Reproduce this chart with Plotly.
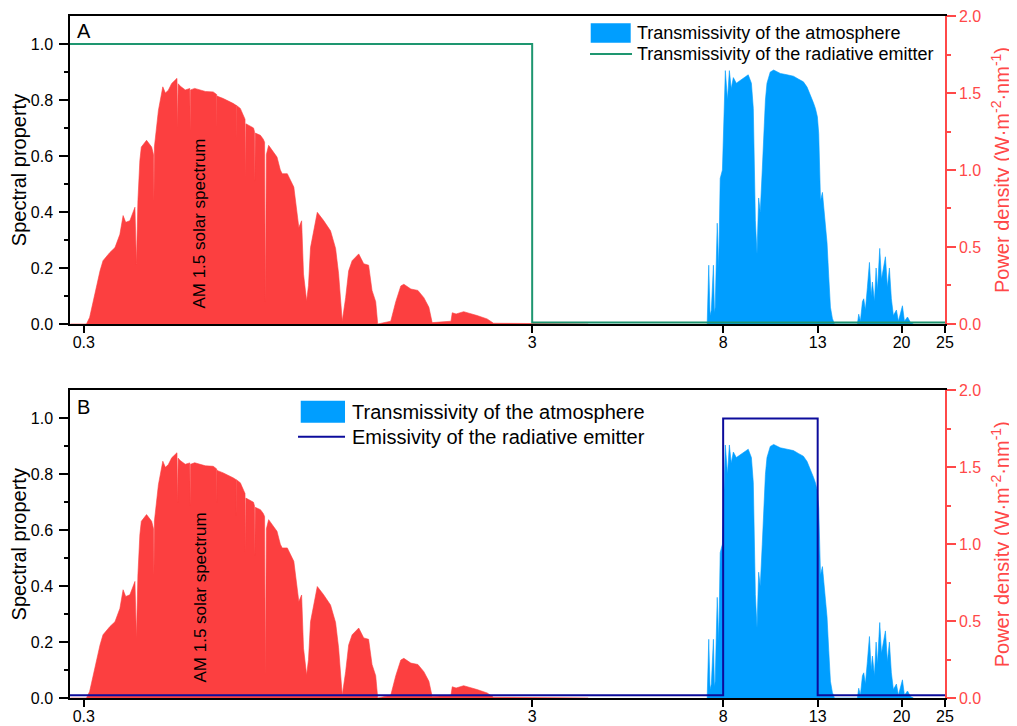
import math
import plotly.graph_objects as go

# ---------------- data ----------------
# AM 1.5 solar spectrum: wavelength (um) and power density (W m^-2 nm^-1)
solar_wl = [0.280, 0.300, 0.304, 0.309, 0.317, 0.326, 0.331, 0.343, 0.352, 0.361,
            0.367, 0.372, 0.380, 0.390, 0.393, 0.396, 0.400, 0.403, 0.414, 0.425,
            0.429, 0.430, 0.431, 0.434, 0.440, 0.450, 0.456, 0.463, 0.471, 0.484,
            0.4855, 0.487, 0.492, 0.505, 0.517, 0.518, 0.519, 0.530, 0.545, 0.560,
            0.583, 0.5935, 0.594, 0.5945, 0.614, 0.630, 0.647, 0.6555, 0.656, 0.6565,
            0.670, 0.681, 0.6865, 0.688, 0.6895, 0.699, 0.717, 0.7205, 0.722, 0.7235,
            0.743, 0.754, 0.759, 0.762, 0.766, 0.775, 0.809, 0.823, 0.831, 0.853,
            0.882, 0.905, 0.918, 0.927, 0.942, 0.951, 0.961, 0.995, 1.027, 1.065,
            1.093, 1.110, 1.131, 1.151, 1.169, 1.190, 1.231, 1.263, 1.295, 1.318,
            1.343, 1.357, 1.451, 1.489, 1.528, 1.552, 1.609, 1.668, 1.720, 1.765,
            1.795, 1.977, 1.990, 2.030, 2.110, 2.260, 2.380, 2.460, 2.550, 3.000,
            4.000]
solar_pd = [0.000, 0.000, 0.000, 0.042, 0.193, 0.345, 0.411, 0.465, 0.496, 0.582,
            0.704, 0.660, 0.671, 0.758, 0.389, 0.800, 1.062, 1.149, 1.193, 1.149,
            1.100, 0.802, 1.150, 1.236, 1.387, 1.540, 1.500, 1.518, 1.562, 1.595,
            1.273, 1.560, 1.545, 1.520, 1.529, 1.255, 1.520, 1.530, 1.518, 1.510,
            1.507, 1.490, 1.273, 1.480, 1.464, 1.450, 1.431, 1.420, 1.190, 1.420,
            1.400, 1.345, 1.330, 0.953, 1.300, 1.291, 1.273, 1.250, 0.927, 1.240,
            1.225, 1.200, 1.180, 0.149, 1.100, 1.160, 1.084, 1.000, 0.976, 0.976,
            0.889, 0.627, 0.670, 0.324, 0.149, 0.250, 0.496, 0.725, 0.673, 0.605,
            0.491, 0.327, 0.018, 0.171, 0.345, 0.411, 0.455, 0.391, 0.382, 0.218,
            0.145, 0.000, 0.018, 0.145, 0.247, 0.258, 0.227, 0.218, 0.171, 0.109,
            0.009, 0.018, 0.073, 0.065, 0.080, 0.055, 0.033, 0.005, 0.004, 0.003,
            0.000]

# Transmissivity of the atmosphere: wavelength (um) and transmissivity
atm_wl = [7.37, 7.43, 7.48, 7.53, 7.61, 7.65, 7.68, 7.76, 7.82, 7.88,
          7.97, 8.02, 8.06, 8.09, 8.18, 8.26, 8.34, 8.43, 8.56, 8.74,
          8.92, 9.10, 9.25, 9.34, 9.44, 9.52, 9.60, 9.68, 9.78, 9.85,
          9.94, 10.02, 10.19, 10.37, 10.73, 11.11, 11.48, 11.77, 12.08, 12.31,
          12.52, 12.72, 12.85, 12.98, 13.07, 13.19, 13.32, 13.41, 13.53, 13.64,
          13.76, 13.88, 14.02, 14.17, 15.94, 16.05, 16.19, 16.36, 16.47, 16.61,
          16.78, 16.96, 17.11, 17.22, 17.40, 17.55, 17.67, 17.88, 18.04, 18.22,
          18.41, 18.60, 18.79, 18.98, 19.18, 19.48, 19.68, 20.09, 20.30, 20.62,
          20.94, 21.26]
atm_tr = [0.00, 0.21, 0.03, 0.05, 0.21, 0.04, 0.06, 0.36, 0.20, 0.52,
          0.55, 0.70, 0.85, 0.905, 0.80, 0.905, 0.84, 0.88, 0.86, 0.87,
          0.88, 0.89, 0.86, 0.77, 0.37, 0.25, 0.45, 0.40, 0.55, 0.67,
          0.80, 0.86, 0.90, 0.907, 0.895, 0.89, 0.885, 0.875, 0.865, 0.846,
          0.82, 0.79, 0.77, 0.74, 0.68, 0.44, 0.47, 0.42, 0.37, 0.29,
          0.17, 0.06, 0.02, 0.00, 0.00, 0.035, 0.01, 0.08, 0.09, 0.05,
          0.13, 0.22, 0.10, 0.15, 0.08, 0.20, 0.12, 0.27, 0.16, 0.20,
          0.24, 0.13, 0.20, 0.09, 0.03, 0.05, 0.01, 0.065, 0.01, 0.025,
          0.005, 0.00]

# Radiative emitter spectra
emitA_wl = [0.27, 3.0, 3.0, 25.0]
emitA_val = [1.0, 1.0, 0.005, 0.005]
emitB_wl = [0.27, 8.0, 8.0, 13.0, 13.0, 25.0]
emitB_val = [0.01, 0.01, 1.0, 1.0, 0.01, 0.01]

x_ticks = [0.3, 3, 8, 13, 20, 25]
x_tick_labels = ["0.3", "3", "8", "13", "20", "25"]
left_ticks = [0.0, 0.2, 0.4, 0.6, 0.8, 1.0]
left_minor = [0.1, 0.3, 0.5, 0.7, 0.9]
right_ticks = [0.0, 0.5, 1.0, 1.5, 2.0]
right_minor = [0.25, 0.75, 1.25, 1.75]

# ---------------- styling ----------------
RED = "#FC3F40"
BLUE = "#009EFF"
GREEN = "#1E9670"
NAVY = "#0C0C9C"
AXRED = "#FF4848"
FONT = "Liberation Sans, Arial, sans-serif"

fig = go.Figure()

panels = [("x", "y", "y2", "y3", emitA_wl, emitA_val, GREEN),
          ("x2", "y4", "y5", "y6", emitB_wl, emitB_val, NAVY)]
for xa, yl, yr, ye, ewl, ev, ecol in panels:
    fig.add_trace(go.Scatter(x=atm_wl, y=atm_tr, xaxis=xa, yaxis=yl, mode="lines",
                             fill="tozeroy", fillcolor=BLUE,
                             line=dict(color=BLUE, width=0.6), showlegend=False,
                             name="Transmissivity of the atmosphere"))
    fig.add_trace(go.Scatter(x=solar_wl, y=solar_pd, xaxis=xa, yaxis=yr, mode="lines",
                             fill="tozeroy", fillcolor=RED,
                             line=dict(color=RED, width=0.6), showlegend=False,
                             name="AM 1.5 solar spectrum"))
    fig.add_trace(go.Scatter(x=ewl, y=ev, xaxis=xa, yaxis=ye, mode="lines",
                             line=dict(color=ecol, width=2), showlegend=False,
                             name="Radiative emitter"))

xcommon = dict(type="log", range=[math.log10(0.2794), math.log10(25.0)],
               tickmode="array", tickvals=x_ticks, ticktext=x_tick_labels,
               ticks="outside", ticklen=7, tickwidth=1.5, tickcolor="black",
               ticklabeloverflow="allow",
               showline=True, linecolor="black", linewidth=1.5, mirror=True,
               showgrid=False, zeroline=False, automargin=False,
               tickfont=dict(size=16, color="black", family=FONT))


def left_axis(domain, anchor):
    return dict(domain=domain, anchor=anchor, range=[0, 1.1], automargin=False,
                tickmode="array", tickvals=left_ticks, tickformat=".1f",
                ticks="outside", ticklen=9, tickwidth=1.5, tickcolor="black",
                ticklabelstandoff=3, ticklabeloverflow="allow",
                minor=dict(tickmode="array", tickvals=left_minor, ticks="outside",
                           ticklen=4, tickwidth=1.5, tickcolor="black"),
                showline=True, linecolor="black", linewidth=1.5,
                showgrid=False, zeroline=False,
                tickfont=dict(size=16, color="black", family=FONT),
                title=dict(text="Spectral property",
                           font=dict(size=20, color="black", family=FONT),
                           standoff=6))


def right_axis(over, anchor):
    return dict(overlaying=over, anchor=anchor, side="right", range=[0, 2.0],
                automargin=False,
                tickmode="array", tickvals=right_ticks, tickformat=".1f",
                ticks="outside", ticklen=9, tickwidth=1.5, tickcolor=AXRED,
                ticklabeloverflow="allow",
                minor=dict(tickmode="array", tickvals=right_minor, ticks="outside",
                           ticklen=4, tickwidth=1.5, tickcolor=AXRED),
                showline=True, linecolor=AXRED, linewidth=1.5,
                showgrid=False, zeroline=False,
                tickfont=dict(size=16, color=AXRED, family=FONT),
                title=dict(text="Power density (W·m<sup>-2</sup>·nm<sup>-1</sup>)",
                           font=dict(size=20, color=AXRED, family=FONT),
                           standoff=15))


def hidden_axis(over, anchor):
    return dict(overlaying=over, anchor=anchor, range=[0, 1.1], visible=False)


domA = [0.5484, 1.0]
domB = [0.0, 0.4509]

fig.update_layout(
    width=1009, height=718,
    margin=dict(l=62, r=72, t=8, b=28, autoexpand=False),
    paper_bgcolor="white", plot_bgcolor="white",
    font=dict(family=FONT, color="black", size=16),
    showlegend=False,
    xaxis=dict(xcommon, anchor="y", domain=[0, 1]),
    xaxis2=dict(xcommon, anchor="y4", domain=[0, 1]),
    yaxis=left_axis(domA, "x"),
    yaxis2=right_axis("y", "x"),
    yaxis3=hidden_axis("y", "x"),
    yaxis4=left_axis(domB, "x2"),
    yaxis5=right_axis("y4", "x2"),
    yaxis6=hidden_axis("y4", "x2"),
)

# pull the x tick labels a little closer to the axis line
try:
    fig.update_xaxes(ticklabelstandoff=-4)
except ValueError:
    fig.update_xaxes(ticklen=5)

annotations = [
    dict(text="A", x=0.006, y=0.978, xanchor="left", yanchor="middle",
         font=dict(size=20)),
    dict(text="B", x=0.006, y=0.4267, xanchor="left", yanchor="middle",
         font=dict(size=20)),
    dict(text="AM 1.5 solar spectrum", x=0.1486, y=0.6957, textangle=-90,
         xanchor="center", yanchor="middle", font=dict(size=17)),
    dict(text="AM 1.5 solar spectrum", x=0.1486, y=0.1474, textangle=-90,
         xanchor="center", yanchor="middle", font=dict(size=17)),
    # legend texts
    dict(text="Transmissivity of the atmosphere", x=0.6457, y=0.9751,
         xanchor="left", yanchor="middle", font=dict(size=18)),
    dict(text="Transmissivity of the radiative emitter", x=0.6457, y=0.9443,
         xanchor="left", yanchor="middle", font=dict(size=18)),
    dict(text="Transmissivity of the atmosphere", x=0.3196, y=0.4198,
         xanchor="left", yanchor="middle", font=dict(size=20)),
    dict(text="Emissivity of the radiative emitter", x=0.3196, y=0.3827,
         xanchor="left", yanchor="middle", font=dict(size=20)),
]
for a in annotations:
    a.update(xref="paper", yref="paper", showarrow=False)
    a["font"] = dict(a["font"], family=FONT, color="black")

shapes = [
    dict(type="rect", x0=0.5951, x1=0.6408, y0=0.9609, y1=0.9893,
         fillcolor=BLUE, line=dict(width=0)),
    dict(type="line", x0=0.5943, x1=0.6423, y0=0.9443, y1=0.9443,
         line=dict(color=GREEN, width=2)),
    dict(type="rect", x0=0.2637, x1=0.3143, y0=0.4037, y1=0.4359,
         fillcolor=BLUE, line=dict(width=0)),
    dict(type="line", x0=0.2606, x1=0.3143, y0=0.3831, y1=0.3831,
         line=dict(color=NAVY, width=2)),
]
for s in shapes:
    s.update(xref="paper", yref="paper")

fig.update_layout(annotations=annotations, shapes=shapes)

fig.write_html("out.html")
